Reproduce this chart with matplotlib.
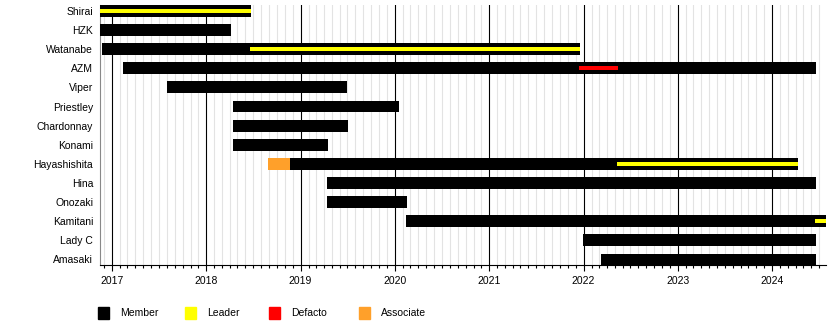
import matplotlib
matplotlib.use("Agg")
import matplotlib.pyplot as plt
import matplotlib.dates as mdates
from matplotlib.patches import Rectangle
from datetime import datetime

plt.rcParams['font.family'] = ['Liberation Sans', 'DejaVu Sans']

# ---- data ----
members = ["Shirai", "HZK", "Watanabe", "AZM", "Viper", "Priestley", "Chardonnay",
           "Konami", "Hayashishita", "Hina", "Onozaki", "Kamitani", "Lady C", "Amasaki"]
member_start = ["2016-11-01", "2016-11-01", "2016-11-23", "2017-02-13", "2017-07-31",
                "2018-04-13", "2018-04-13", "2018-04-13", "2018-11-22", "2019-04-12",
                "2019-04-12", "2020-02-12", "2021-12-31", "2022-03-08"]
member_end = ["2018-06-21", "2018-04-08", "2021-12-17", "2024-06-20", "2019-07-01",
              "2020-01-19", "2019-07-02", "2019-04-16", "2024-04-10", "2024-06-20",
              "2020-02-16", "2024-08-31", "2024-06-20", "2024-06-20"]

leader_names = ["Shirai", "Watanabe", "Hayashishita", "Kamitani"]
leader_start = ["2016-11-01", "2018-06-18", "2022-05-10", "2024-06-16"]
leader_end = ["2018-06-21", "2021-12-17", "2024-04-10", "2024-08-31"]

defacto_names = ["AZM"]
defacto_start = ["2021-12-13"]
defacto_end = ["2022-05-15"]

associate_names = ["Hayashishita"]
associate_start = ["2018-08-27"]
associate_end = ["2018-11-22"]

legend_labels = ["Member", "Leader", "Defacto", "Associate"]
legend_colors = ["#000000", "#ffff00", "#ff0000", "#ffa02a"]

x_start = "2016-11-15"
x_end = "2024-07-28"

# ---- plot ----
def d(s):
    return mdates.date2num(datetime.strptime(s, "%Y-%m-%d"))

fig = plt.figure(figsize=(8.4, 3.25), dpi=100)
ax = fig.add_axes([100/840, 1 - 265/325, 726/840, 260/325])

ypos = {n: i for i, n in enumerate(members)}
bar_h = 0.62
stripe_h = 0.22

for n, s, e in zip(members, member_start, member_end):
    ax.barh(ypos[n], d(e) - d(s), left=d(s), height=bar_h, color=legend_colors[0], zorder=3)
for n, s, e in zip(associate_names, associate_start, associate_end):
    ax.barh(ypos[n], d(e) - d(s), left=d(s), height=bar_h, color=legend_colors[3], zorder=3)
for n, s, e in zip(leader_names, leader_start, leader_end):
    ax.barh(ypos[n], d(e) - d(s), left=d(s), height=stripe_h, color=legend_colors[1], zorder=4)
for n, s, e in zip(defacto_names, defacto_start, defacto_end):
    ax.barh(ypos[n], d(e) - d(s), left=d(s), height=stripe_h, color=legend_colors[2], zorder=4)

ax.set_xlim(d(x_start), d(x_end))
ax.set_ylim(len(members) - 1 + 0.29, -0.31)
ax.set_yticks(range(len(members)))
ax.set_yticklabels(members, fontsize=7.5)
ax.tick_params(axis='y', length=0, pad=5)

ax.xaxis.set_major_locator(mdates.YearLocator())
ax.xaxis.set_major_formatter(mdates.DateFormatter("%Y"))
ax.xaxis.set_minor_locator(mdates.MonthLocator())
ax.tick_params(axis='x', which='major', length=4, width=0.8, labelsize=7.5, pad=4, color='black')
ax.tick_params(axis='x', which='minor', length=2.2, width=0.8, color='black')

ax.grid(True, which='minor', axis='x', color='#e3e3e3', linewidth=0.8, zorder=0)
ax.grid(True, which='major', axis='x', color='black', linewidth=0.8, zorder=1)
ax.set_axisbelow(True)

for sp in ['top', 'right']:
    ax.spines[sp].set_visible(False)
ax.spines['left'].set_color('#888888')
ax.spines['left'].set_linewidth(0.8)
ax.spines['bottom'].set_color('black')
ax.spines['bottom'].set_linewidth(0.8)

# legend
leg_sq_x = [98, 185, 269, 359]
for lx, lab, col in zip(leg_sq_x, legend_labels, legend_colors):
    fig.patches.append(Rectangle((lx/840, 1 - 319/325), 11/840, 12/325,
                                 transform=fig.transFigure, color=col))
    fig.text((lx + 22)/840, 1 - 313.5/325, lab, fontsize=7.5, va='center', ha='left')

fig.savefig("out.png", dpi=100)
